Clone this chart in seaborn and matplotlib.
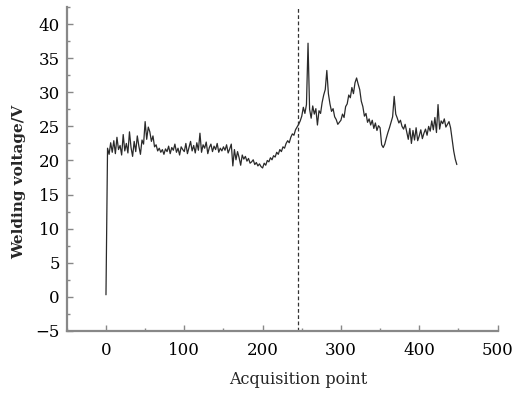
import numpy as np
import pandas as pd
import matplotlib
matplotlib.use("Agg")
import matplotlib.pyplot as plt
from matplotlib.ticker import MultipleLocator
import seaborn as sns

volt_000 = [0.3, 21.8, 20.9, 22.6, 21.2, 22.9, 21.0, 23.4, 21.6, 22.2, 20.8, 23.8, 21.4,
            22.5, 21.1, 24.2, 21.9, 20.6, 22.8, 21.3, 23.6, 22.1, 20.9, 23.0, 22.4]
volt_050 = [25.7, 23.1, 24.9, 24.2, 22.8, 23.6, 22.0, 22.3, 21.4, 21.8, 21.2, 21.6, 20.9,
            21.7, 21.3, 22.1, 21.0, 21.9, 21.5, 22.4, 21.2, 21.8, 20.8, 22.0, 21.6]
volt_100 = [21.3, 22.5, 21.0, 21.9, 22.8, 21.4, 22.2, 21.1, 22.6, 21.5, 24.0, 21.2, 22.3,
            21.8, 22.7, 21.0, 21.9, 22.4, 21.3, 22.1, 21.6, 22.5, 21.2, 21.8, 21.4]
volt_150 = [22.0, 21.5, 22.3, 21.1, 21.7, 22.4, 19.2, 21.6, 20.1, 21.3, 20.4, 19.3, 20.8,
            20.2, 20.6, 19.9, 20.3, 19.6, 19.8, 20.1, 19.4, 19.7, 19.2, 19.5, 19.1]
volt_200 = [18.9, 19.6, 19.3, 20.0, 19.8, 20.4, 20.1, 20.7, 20.5, 21.2, 20.9, 21.6, 21.3,
            22.0, 21.8, 22.5, 22.9, 22.6, 23.4, 23.9, 23.7, 24.5, 24.9, 25.3, 25.8]
volt_250 = [26.5, 27.8, 26.9, 28.2, 37.2, 27.5, 26.2, 28.0, 26.8, 27.6, 25.2, 27.3, 26.9,
            28.5, 29.6, 30.4, 33.2, 29.8, 28.3, 27.2, 27.6, 26.4, 26.0, 25.3, 25.6]
volt_300 = [25.9, 26.8, 26.3, 27.9, 28.3, 29.6, 29.2, 30.7, 29.8, 31.4, 32.1, 31.2, 30.4,
            28.7, 27.9, 26.5, 26.9, 25.6, 26.1, 25.2, 25.9, 24.7, 25.5, 24.4, 25.1]
volt_350 = [24.8, 22.3, 21.9, 22.4, 23.3, 24.1, 24.8, 25.6, 26.4, 29.4, 26.8, 26.2, 25.5,
            25.9, 25.0, 24.6, 25.3, 24.2, 23.1, 24.7, 22.5, 24.4, 23.0, 24.8, 22.9]
volt_400 = [23.6, 24.5, 23.2, 24.0, 24.6, 23.7, 25.0, 24.3, 25.8, 24.5, 26.3, 24.1, 28.2,
            24.6, 25.8, 25.4, 26.1, 24.9, 25.3, 25.7, 24.8, 23.1, 21.4, 20.2, 19.4]

voltage = (volt_000 + volt_050 + volt_100 + volt_150 + volt_200
           + volt_250 + volt_300 + volt_350 + volt_400)
points = list(range(0, 2 * len(voltage), 2))
split_point = 245

df = pd.DataFrame({"point": points, "voltage": voltage})

sns.set_style("ticks")
plt.rcParams["font.family"] = ["DejaVu Serif", "Liberation Serif"]

fig = plt.figure(figsize=(5.14, 3.93), dpi=100)
ax = fig.add_axes([0.130, 0.158, 0.838, 0.824])

sns.lineplot(data=df, x="point", y="voltage", color="#2a2a2a", linewidth=0.9, ax=ax)
ax.axvline(split_point, color="#333333", linestyle=(0, (3, 2)), linewidth=0.9)

ax.set_xlim(-50, 500)
ax.set_ylim(-5, 42.5)
ax.xaxis.set_major_locator(MultipleLocator(100))
ax.xaxis.set_minor_locator(MultipleLocator(50))
ax.yaxis.set_major_locator(MultipleLocator(5))
ax.yaxis.set_minor_locator(MultipleLocator(2.5))
ax.tick_params(which="both", direction="in", color="#888888", labelcolor="black")
ax.tick_params(axis="y", labelsize=12, pad=5)
ax.tick_params(axis="x", labelsize=12, pad=8)
ax.tick_params(which="major", length=4, width=1)
ax.tick_params(which="minor", length=2, width=1)
ax.set_yticks(np.arange(-5, 41, 5))
ax.set_yticklabels(["\u22125"] + [str(v) for v in range(0, 41, 5)])

sns.despine(ax=ax)
for side in ["left", "bottom"]:
    ax.spines[side].set_color("#888888")
    ax.spines[side].set_linewidth(1.6)

ax.set_xlabel("Acquisition point", fontsize=11.5)
ax.set_ylabel("Welding voltage/V", fontsize=11, fontweight="bold")
ax.xaxis.set_label_coords(0.537, -0.125)
ax.yaxis.set_label_coords(-0.095, 0.46)

fig.savefig("out.png", dpi=100)
